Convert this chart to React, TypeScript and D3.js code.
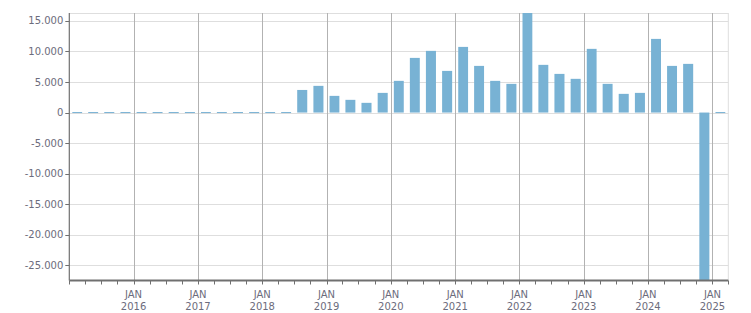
import React from "react";
import * as d3 from "d3";

const quarterStarts: string[] = [
  "2015-01-01","2015-04-01","2015-07-01","2015-10-01",
  "2016-01-01","2016-04-01","2016-07-01","2016-10-01",
  "2017-01-01","2017-04-01","2017-07-01","2017-10-01",
  "2018-01-01","2018-04-01","2018-07-01","2018-10-01",
  "2019-01-01","2019-04-01","2019-07-01","2019-10-01",
  "2020-01-01","2020-04-01","2020-07-01","2020-10-01",
  "2021-01-01","2021-04-01","2021-07-01","2021-10-01",
  "2022-01-01","2022-04-01","2022-07-01","2022-10-01",
  "2023-01-01","2023-04-01","2023-07-01","2023-10-01",
  "2024-01-01","2024-04-01","2024-07-01","2024-10-01",
  "2025-01-01",
];

const values: number[] = [
  0, 0, 0, 0,
  0, 0, 0, 0,
  0, 0, 0, 0,
  0, 0, 3700, 4370,
  2730, 2080, 1590, 3220,
  5190, 8950, 10100, 6820,
  10750, 7640, 5190, 4700,
  16300, 7810, 6330, 5520,
  10430, 4700, 3060, 3220,
  12060, 7640, 7970, -27500,
  0,
];

const yTicks: number[] = [-25000, -20000, -15000, -10000, -5000, 0, 5000, 10000, 15000];
const xYearLabels: string[] = ["2016","2017","2018","2019","2020","2021","2022","2023","2024","2025"];
const monthLabel = "JAN";

const W = 751, H = 313;
const L = 69.3, R = 728.3, T = 13, B = 280.5;

const locale = d3.formatLocale({ decimal: ",", thousands: ".", grouping: [3], currency: ["", ""], minus: "-" });
const fmt = locale.format(",d");

export default function App() {
  const parse = d3.utcParse("%Y-%m-%d");
  const starts = quarterStarts.map((s) => parse(s) as Date);
  const domainEnd = d3.utcMonth.offset(starts[starts.length - 1], 3);
  const x = d3.scaleUtc().domain([starts[0], domainEnd]).range([L, R]);
  const y = d3.scaleLinear().domain([d3.min(values) as number, d3.max(values) as number]).range([B, T]);
  const y0 = y(0);
  const quarterTicks = d3.utcMonth.every(3)!.range(starts[0], d3.utcDay.offset(domainEnd, 1));
  const yearDates = xYearLabels.map((yr) => parse(`${yr}-01-01`) as Date);
  const font = "'DejaVu Sans', Verdana, sans-serif";
  const textColor = "#6c6c7c";

  return (
    <svg width={W} height={H} style={{ position: "absolute", left: 0, top: 0, background: "#fff" }}>
      {/* horizontal grid */}
      {yTicks.map((t) => (
        <line key={"hg" + t} x1={L} x2={R} y1={Math.round(y(t)) + 0.5} y2={Math.round(y(t)) + 0.5} stroke="#dedede" strokeWidth={1} />
      ))}
      {/* top & right border */}
      <line x1={L} x2={R} y1={T + 0.5} y2={T + 0.5} stroke="#dedede" strokeWidth={1} />
      <line x1={R} x2={R} y1={T} y2={B} stroke="#dedede" strokeWidth={1} />
      {/* vertical year grid */}
      {yearDates.map((d, i) => (
        <line key={"vg" + i} x1={Math.round(x(d)) + 0.5} x2={Math.round(x(d)) + 0.5} y1={T} y2={B} stroke="#b2b2b2" strokeWidth={1} />
      ))}
      {/* bars */}
      {values.map((v, i) => {
        const xs = x(starts[i]);
        const xe = x(d3.utcMonth.offset(starts[i], 3));
        const bw = (xe - xs) * 0.62;
        const cx = (xs + xe) / 2;
        let top = Math.min(y(v), y0);
        let h = Math.abs(y(v) - y0);
        if (h < 1) { h = 1; top = y0 - 0.5; }
        return <rect key={"b" + i} x={cx - bw / 2} y={top} width={bw} height={h} fill="#78b2d4" />;
      })}
      {/* left axis */}
      <line x1={L} x2={L} y1={T} y2={B} stroke="#707070" strokeWidth={1.2} />
      {yTicks.map((t) => (
        <g key={"yt" + t}>
          <line x1={L - 4} x2={L} y1={Math.round(y(t)) + 0.5} y2={Math.round(y(t)) + 0.5} stroke="#707070" strokeWidth={1} />
          <text x={L - 6} y={y(t)} dy="0.35em" textAnchor="end" fontFamily={font} fontSize={10} fill={textColor}>
            {fmt(t)}
          </text>
        </g>
      ))}
      {/* bottom axis */}
      {quarterTicks.map((d, i) => (
        <line key={"xt" + i} x1={Math.round(x(d)) + 0.5} x2={Math.round(x(d)) + 0.5} y1={B} y2={B + 4} stroke="#707070" strokeWidth={1} />
      ))}
      <line x1={L} x2={R} y1={B} y2={B} stroke="#707070" strokeWidth={2} />
      {yearDates.map((d, i) => (
        <g key={"xl" + i} fontFamily={font} fontSize={10} fill={textColor} textAnchor="middle">
          <text x={x(d)} y={297.5}>{monthLabel}</text>
          <text x={x(d)} y={309.5}>{xYearLabels[i]}</text>
        </g>
      ))}
    </svg>
  );
}
